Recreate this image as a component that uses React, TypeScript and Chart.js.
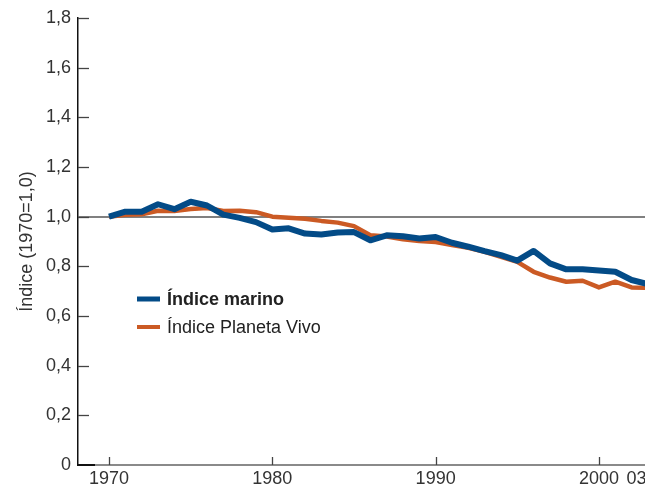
import React, { useEffect, useRef } from "react";
import { Chart, registerables } from "chart.js";

Chart.register(...registerables);

const years = [
  1970, 1971, 1972, 1973, 1974, 1975, 1976, 1977, 1978, 1979,
  1980, 1981, 1982, 1983, 1984, 1985, 1986, 1987, 1988, 1989,
  1990, 1991, 1992, 1993, 1994, 1995, 1996, 1997, 1998, 1999,
  2000, 2001, 2002, 2003,
];

const marineIndex = [
  1.0, 1.02, 1.02, 1.05, 1.03, 1.06, 1.045, 1.008, 0.995, 0.978,
  0.948, 0.953, 0.932, 0.928, 0.936, 0.938, 0.905, 0.925, 0.921, 0.912,
  0.918, 0.895, 0.879, 0.861, 0.845, 0.823, 0.862, 0.812, 0.788, 0.788,
  0.783, 0.778, 0.745, 0.728,
];

const livingPlanetIndex = [
  1.0, 1.008, 1.01, 1.024, 1.023, 1.031, 1.035, 1.023, 1.024, 1.018,
  1.0, 0.996, 0.992, 0.983, 0.976, 0.962, 0.925, 0.92, 0.909, 0.902,
  0.898, 0.886, 0.875, 0.858, 0.838, 0.818, 0.778, 0.755, 0.738, 0.742,
  0.715, 0.738, 0.715, 0.713,
];

const seriesLabels = ["Índice marino", "Índice Planeta Vivo"];
const xTickValues = [1970, 1980, 1990, 2000, 2002.3];
const xTickLabels = ["1970", "1980", "1990", "2000", "03"];
const xTickMarks = [1970, 1980, 1990, 2000];
const yAxisTitle = "Índice (1970=1,0)";

const BLUE = "#034b87";
const ORANGE = "#cb5a24";
const FONT = "'Liberation Sans', Arial, Helvetica, sans-serif";

const decorPlugin = {
  id: "decor",
  afterDatasetsDraw(chart: any) {
    const ctx = chart.ctx;
    const { left, bottom } = chart.chartArea;
    const ys = chart.scales.y;
    const xs = chart.scales.x;
    ctx.save();
    // y tick marks (inside)
    ctx.strokeStyle = "#444";
    ctx.lineWidth = 1.3;
    ys.ticks.forEach((t: any) => {
      if (t.value === 0) return;
      const py = Math.round(ys.getPixelForValue(t.value)) + 0.5;
      ctx.beginPath();
      ctx.moveTo(left, py);
      ctx.lineTo(left + 11, py);
      ctx.stroke();
    });
    // x tick marks (inside)
    xTickMarks.forEach((v) => {
      const px = Math.round(xs.getPixelForValue(v)) + 0.5;
      ctx.beginPath();
      ctx.moveTo(px, bottom);
      ctx.lineTo(px, bottom - 8);
      ctx.stroke();
    });
    // dark segment at the origin
    ctx.strokeStyle = "#111";
    ctx.lineWidth = 2;
    ctx.beginPath();
    ctx.moveTo(left, bottom);
    ctx.lineTo(left + 17, bottom);
    ctx.stroke();

    // legend
    const items = [
      { label: seriesLabels[0], color: BLUE, bold: true, width: 5 },
      { label: seriesLabels[1], color: ORANGE, bold: false, width: 4 },
    ];
    items.forEach((it, i) => {
      const y = 299 + i * 28;
      ctx.strokeStyle = it.color;
      ctx.lineWidth = it.width;
      ctx.beginPath();
      ctx.moveTo(137, y);
      ctx.lineTo(160, y);
      ctx.stroke();
      ctx.fillStyle = "#222";
      ctx.font = `${it.bold ? "bold " : ""}18px ${FONT}`;
      ctx.textBaseline = "middle";
      ctx.textAlign = "left";
      ctx.fillText(it.label, 167, y + 1);
    });
    ctx.restore();
  },
};

export default function App() {
  const canvasRef = useRef<HTMLCanvasElement | null>(null);

  useEffect(() => {
    if (!canvasRef.current) return;
    const chart = new Chart(canvasRef.current, {
      type: "line",
      data: {
        datasets: [
          {
            label: seriesLabels[0],
            data: years.map((y, i) => ({ x: y, y: marineIndex[i] })),
            borderColor: BLUE,
            borderWidth: 6,
            pointRadius: 0,
            tension: 0,
            borderJoinStyle: "round",
          },
          {
            label: seriesLabels[1],
            data: years.map((y, i) => ({ x: y, y: livingPlanetIndex[i] })),
            borderColor: ORANGE,
            borderWidth: 4.5,
            pointRadius: 0,
            tension: 0,
            borderJoinStyle: "round",
          },
        ],
      },
      options: {
        responsive: false,
        animation: false,
        layout: { padding: { top: 18, right: 0, left: 0, bottom: 0 } },
        plugins: { legend: { display: false }, tooltip: { enabled: false } },
        scales: {
          x: {
            type: "linear",
            min: 1968.1,
            max: 2002.82,
            afterBuildTicks: (scale: any) => {
              scale.ticks = xTickValues.map((v) => ({ value: v }));
            },
            afterFit: (scale: any) => {
              scale.height = 23;
              scale.paddingLeft = 0;
              scale.paddingRight = 0;
            },
            ticks: {
              autoSkip: false,
              maxRotation: 0,
              padding: 3,
              color: "#333",
              font: { family: FONT, size: 18 },
              callback: (v: any) => {
                const idx = xTickValues.indexOf(Number(v));
                return idx >= 0 ? xTickLabels[idx] : "";
              },
            },
            grid: { display: false, drawTicks: false },
            border: { display: true, color: "#8a8a8a", width: 2 },
          },
          y: {
            type: "linear",
            min: 0,
            max: 1.8,
            afterFit: (scale: any) => {
              scale.width = 78;
              scale.paddingTop = 0;
              scale.paddingBottom = 0;
            },
            ticks: {
              stepSize: 0.2,
              padding: 7,
              color: "#333",
              font: { family: FONT, size: 18 },
              callback: (v: any) =>
                Number(v) === 0 ? "0" : Number(v).toFixed(1).replace(".", ","),
            },
            grid: {
              drawTicks: false,
              color: (c: any) =>
                c.tick && Math.abs(c.tick.value - 1) < 1e-9 ? "#808080" : "rgba(0,0,0,0)",
              lineWidth: 2,
            },
            border: { display: true, color: "#111", width: 1.5 },
            title: {
              display: true,
              text: yAxisTitle,
              color: "#333",
              font: { family: FONT, size: 18 },
              padding: { top: 16, bottom: 0 },
            },
          },
        },
      },
      plugins: [decorPlugin],
    });
    return () => chart.destroy();
  }, []);

  return (
    <div style={{ position: "fixed", left: 0, top: 0, width: 645, height: 488, background: "#fff" }}>
      <canvas ref={canvasRef} width={645} height={488} />
    </div>
  );
}
